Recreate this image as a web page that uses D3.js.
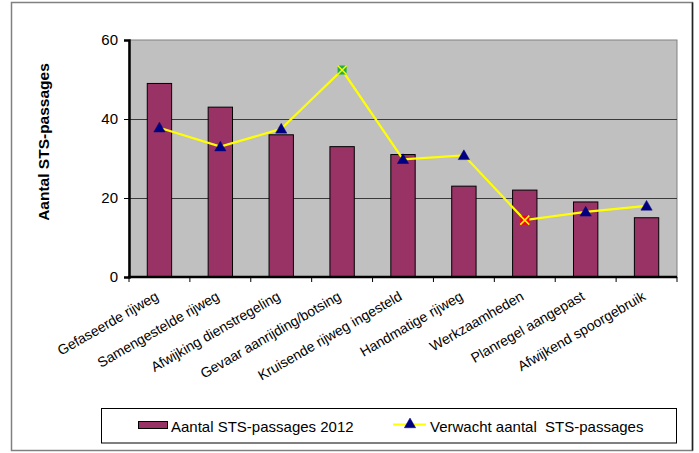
<!DOCTYPE html>
<html>
<head>
<meta charset="utf-8">
<script src="https://cdn.jsdelivr.net/npm/d3@7/dist/d3.min.js"></script>
<style>
  html, body { margin: 0; padding: 0; background: #fff; }
  svg { display: block; }
  text { font-family: Arial, "Liberation Sans", sans-serif; fill: #000; }
</style>
</head>
<body>
<svg id="chart" width="699" height="453"></svg>
<script>
const categories = [
  "Gefaseerde rijweg",
  "Samengestelde rijweg",
  "Afwijking dienstregeling",
  "Gevaar aanrijding/botsing",
  "Kruisende rijweg ingesteld",
  "Handmatige rijweg",
  "Werkzaamheden",
  "Planregel aangepast",
  "Afwijkend spoorgebruik"
];
const actual2012 = [49, 43, 36, 33, 31, 23, 22, 19, 15];
const expected = [37.8, 33.0, 37.5, 52.4, 29.8, 30.8, 14.4, 16.5, 18.0];
// marker type per expected point: "tri" normal, "green"/"red" special squares
const markerTypes = ["tri", "tri", "tri", "green", "tri", "tri", "red", "tri", "tri"];
const yTicks = [0, 20, 40, 60];
const seriesNames = ["Aantal STS-passages 2012", "Verwacht aantal  STS-passages"];
const yTitle = "Aantal STS-passages";

const svg = d3.select("#chart");

// outer border
svg.append("rect").attr("x", 11.5).attr("y", 2.5).attr("width", 681).attr("height", 448)
  .attr("fill", "#fff").attr("stroke", "#808080").attr("stroke-width", 1.5);
svg.append("line").attr("x1", 692.5).attr("x2", 692.5).attr("y1", 2.5).attr("y2", 450.5)
  .attr("stroke", "#222").attr("stroke-width", 1.5);

const plot = { left: 129, right: 677, top: 40, bottom: 277 };

const x = d3.scaleBand().domain(categories)
  .range([plot.left, plot.right]).paddingInner(0.6).paddingOuter(0.3);
const y = d3.scaleLinear().domain([0, 60]).range([plot.bottom, plot.top]);

// plot background
svg.append("rect").attr("x", plot.left).attr("y", plot.top)
  .attr("width", plot.right - plot.left).attr("height", plot.bottom - plot.top)
  .attr("fill", "#c0c0c0").attr("stroke", "#808080").attr("stroke-width", 1);

// gridlines
svg.append("g").selectAll("line").data(yTicks.filter(d => d > 0 && d < 60)).join("line")
  .attr("x1", plot.left).attr("x2", plot.right)
  .attr("y1", d => Math.round(y(d)) + 0.5).attr("y2", d => Math.round(y(d)) + 0.5)
  .attr("stroke", "#3a3a3a").attr("stroke-width", 1);

// bars
svg.append("g").selectAll("rect").data(actual2012).join("rect")
  .attr("x", (d, i) => x(categories[i]))
  .attr("y", d => y(d))
  .attr("width", x.bandwidth())
  .attr("height", d => y(0) - y(d))
  .attr("fill", "#993366").attr("stroke", "#000").attr("stroke-width", 1);

// y axis
const yAxis = d3.axisLeft(y).tickValues(yTicks).tickSize(5).tickPadding(6);
const gy = svg.append("g").attr("transform", `translate(${plot.left},0)`).call(yAxis);
gy.select(".domain").attr("stroke", "#000").attr("stroke-width", 2.5);
gy.selectAll(".tick line").attr("stroke", "#000").attr("stroke-width", 1);
gy.selectAll(".tick text").attr("font-size", 15).attr("font-family", "Arial, 'Liberation Sans', sans-serif");

// x axis: ticks at band boundaries
const xAxisG = svg.append("g");
xAxisG.append("line").attr("x1", plot.left - 1).attr("x2", plot.right)
  .attr("y1", plot.bottom).attr("y2", plot.bottom)
  .attr("stroke", "#000").attr("stroke-width", 2.5);
const boundaries = categories.map(c => x(c) - x.step() * x.paddingInner() / 2);
boundaries.push(plot.right);
xAxisG.selectAll("line.tk").data(boundaries).join("line").attr("class", "tk")
  .attr("x1", d => d).attr("x2", d => d)
  .attr("y1", plot.bottom).attr("y2", plot.bottom + 5)
  .attr("stroke", "#000").attr("stroke-width", 1);
xAxisG.selectAll("text").data(categories).join("text")
  .attr("transform", d => `translate(${x(d) + x.bandwidth() / 2},${plot.bottom + 22}) rotate(-30)`)
  .attr("text-anchor", "end")
  .attr("font-size", 14)
  .text(d => d);

// y title
svg.append("text")
  .attr("transform", "translate(48.5,142) rotate(-90)")
  .attr("text-anchor", "middle").attr("font-size", 15.5).attr("font-weight", "bold")
  .text(yTitle);

// expected line
const cx = (d, i) => x(categories[i]) + x.bandwidth() / 2;
const line = d3.line().x((d, i) => cx(d, i)).y(d => y(d));
svg.append("path").datum(expected).attr("d", line)
  .attr("fill", "none").attr("stroke", "#ffff00").attr("stroke-width", 2.2);

const tri = d3.symbol().type(d3.symbolTriangle).size(55);
function drawMarker(g, type, px, py) {
  if (type === "tri") {
    g.append("path").attr("d", tri()).attr("transform", `translate(${px},${py + 1})`)
      .attr("fill", "#000080").attr("stroke", "#000080").attr("stroke-width", 0.5);
  } else {
    const s = 9;
    g.append("rect").attr("x", px - s / 2).attr("y", py - s / 2).attr("width", s).attr("height", s)
      .attr("fill", type === "green" ? "#1fae48" : "#ff0000");
    g.append("path").attr("d", `M${px - s / 2},${py - s / 2}L${px + s / 2},${py + s / 2}M${px + s / 2},${py - s / 2}L${px - s / 2},${py + s / 2}`)
      .attr("stroke", "#ffff00").attr("stroke-width", 1.5);
  }
}
const mg = svg.append("g");
expected.forEach((d, i) => drawMarker(mg, markerTypes[i], cx(d, i), y(d)));

// legend
const lg = svg.append("g");
lg.append("rect").attr("x", 101.5).attr("y", 408.5).attr("width", 575).attr("height", 34.5)
  .attr("fill", "#fff").attr("stroke", "#000").attr("stroke-width", 1);
lg.append("rect").attr("x", 138.5).attr("y", 421.5).attr("width", 29).attr("height", 7)
  .attr("fill", "#993366").attr("stroke", "#000").attr("stroke-width", 1);
lg.append("text").attr("x", 171).attr("y", 432).attr("font-size", 15).text(seriesNames[0]);
lg.append("line").attr("x1", 393).attr("x2", 426).attr("y1", 424.5).attr("y2", 424.5)
  .attr("stroke", "#ffff00").attr("stroke-width", 2.2);
drawMarker(lg, "tri", 410, 423.5);
lg.append("text").attr("x", 430).attr("y", 432).attr("font-size", 15)
  .attr("xml:space", "preserve").style("white-space", "pre").text(seriesNames[1]);
</script>
</body>
</html>
